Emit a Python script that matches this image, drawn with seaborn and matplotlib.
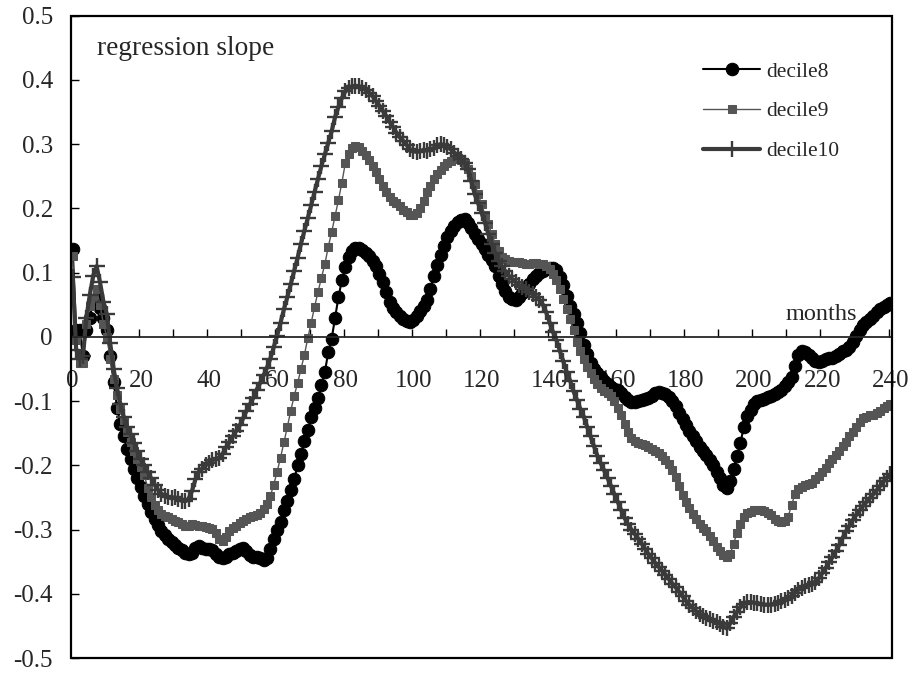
import matplotlib
matplotlib.use("Agg")
import matplotlib.pyplot as plt
from matplotlib.patches import Rectangle
import seaborn as sns
import numpy as np

# months 0..240 on the category axis
months = np.arange(241)

decile8 = [
    0.136, 0.010, 0.010, -0.030, 0.010, 0.030, 0.055, 0.060, 0.045, 0.030,
    0.010, -0.030, -0.070, -0.110, -0.135, -0.155, -0.175, -0.190, -0.205, -0.220,
    -0.233, -0.248, -0.260, -0.272, -0.283, -0.293, -0.302, -0.309, -0.315, -0.320,
    -0.324, -0.328, -0.332, -0.336, -0.338, -0.336, -0.328, -0.326, -0.328, -0.330,
    -0.330, -0.332, -0.338, -0.343, -0.345, -0.342, -0.338, -0.336, -0.333, -0.330,
    -0.328, -0.333, -0.340, -0.343, -0.342, -0.344, -0.347, -0.345, -0.330, -0.314,
    -0.300, -0.288, -0.270, -0.256, -0.238, -0.222, -0.200, -0.182, -0.162, -0.145,
    -0.125, -0.110, -0.095, -0.075, -0.055, -0.024, -0.003, 0.030, 0.062, 0.088,
    0.108, 0.124, 0.134, 0.138, 0.138, 0.135, 0.130, 0.126, 0.118, 0.110,
    0.098, 0.085, 0.070, 0.055, 0.045, 0.038, 0.033, 0.028, 0.025, 0.023,
    0.026, 0.033, 0.040, 0.048, 0.058, 0.075, 0.095, 0.112, 0.128, 0.142,
    0.155, 0.165, 0.173, 0.179, 0.182, 0.183, 0.178, 0.170, 0.160, 0.152,
    0.145, 0.137, 0.128, 0.120, 0.110, 0.095, 0.082, 0.072, 0.062, 0.059,
    0.058, 0.062, 0.068, 0.075, 0.083, 0.090, 0.095, 0.100, 0.103, 0.106,
    0.107, 0.107, 0.104, 0.093, 0.080, 0.064, 0.048, 0.035, 0.022, 0.006,
    -0.012, -0.027, -0.040, -0.050, -0.057, -0.063, -0.068, -0.073, -0.078, -0.081,
    -0.083, -0.087, -0.093, -0.098, -0.101, -0.102, -0.100, -0.098, -0.096, -0.095,
    -0.092, -0.088, -0.086, -0.087, -0.089, -0.093, -0.100, -0.108, -0.118, -0.128,
    -0.137, -0.147, -0.155, -0.162, -0.172, -0.178, -0.184, -0.192, -0.200, -0.210,
    -0.220, -0.230, -0.236, -0.225, -0.205, -0.185, -0.165, -0.140, -0.123, -0.114,
    -0.105, -0.100, -0.098, -0.096, -0.094, -0.092, -0.089, -0.086, -0.082, -0.077,
    -0.071, -0.062, -0.045, -0.028, -0.022, -0.024, -0.028, -0.033, -0.037, -0.039,
    -0.037, -0.034, -0.033, -0.033, -0.030, -0.026, -0.022, -0.020, -0.016, -0.008,
    0.002, 0.010, 0.018, 0.023, 0.028, 0.033, 0.038, 0.043, 0.047, 0.050, 0.053,
]

decile9 = [
    0.126, -0.005, -0.040, -0.040, 0.020, 0.048, 0.060, 0.075, 0.050, 0.020,
    0.000, -0.035, -0.065, -0.090, -0.112, -0.130, -0.148, -0.163, -0.177, -0.190,
    -0.202, -0.215, -0.235, -0.250, -0.262, -0.270, -0.276, -0.279, -0.281, -0.283,
    -0.286, -0.289, -0.292, -0.294, -0.294, -0.292, -0.293, -0.294, -0.295, -0.296,
    -0.297, -0.299, -0.306, -0.314, -0.318, -0.312, -0.303, -0.298, -0.294, -0.290,
    -0.286, -0.283, -0.281, -0.279, -0.277, -0.274, -0.268, -0.260, -0.248, -0.230,
    -0.210, -0.188, -0.164, -0.140, -0.115, -0.092, -0.072, -0.050, -0.028, -0.002,
    0.022, 0.047, 0.070, 0.092, 0.113, 0.140, 0.163, 0.188, 0.213, 0.240,
    0.270, 0.285, 0.294, 0.297, 0.295, 0.290, 0.283, 0.275, 0.266, 0.256,
    0.246, 0.235, 0.225, 0.217, 0.212, 0.208, 0.203, 0.198, 0.194, 0.190,
    0.189, 0.193, 0.200, 0.212, 0.225, 0.235, 0.245, 0.254, 0.260, 0.266,
    0.271, 0.274, 0.277, 0.278, 0.276, 0.270, 0.262, 0.250, 0.238, 0.222,
    0.207, 0.190, 0.176, 0.160, 0.145, 0.133, 0.125, 0.121, 0.118, 0.117,
    0.116, 0.116, 0.115, 0.114, 0.114, 0.115, 0.115, 0.114, 0.113, 0.110,
    0.105, 0.098, 0.088, 0.074, 0.059, 0.044, 0.028, 0.010, -0.008, -0.022,
    -0.034, -0.047, -0.057, -0.066, -0.074, -0.080, -0.084, -0.087, -0.092, -0.100,
    -0.110, -0.122, -0.135, -0.148, -0.157, -0.162, -0.165, -0.167, -0.169, -0.172,
    -0.175, -0.178, -0.181, -0.186, -0.192, -0.198, -0.207, -0.218, -0.232, -0.246,
    -0.257, -0.267, -0.276, -0.284, -0.291, -0.297, -0.303, -0.310, -0.318, -0.327,
    -0.334, -0.340, -0.343, -0.338, -0.322, -0.305, -0.292, -0.280, -0.275, -0.272,
    -0.270, -0.269, -0.270, -0.271, -0.274, -0.278, -0.283, -0.287, -0.288, -0.286,
    -0.280, -0.262, -0.245, -0.237, -0.233, -0.231, -0.229, -0.227, -0.222, -0.216,
    -0.210, -0.204, -0.197, -0.190, -0.184, -0.177, -0.170, -0.163, -0.155, -0.148,
    -0.140, -0.132, -0.127, -0.124, -0.122, -0.121, -0.119, -0.116, -0.111, -0.107, -0.105,
]

decile10 = [
    0.093, -0.020, -0.034, -0.030, 0.030, 0.065, 0.095, 0.110, 0.085, 0.055,
    0.035, -0.010, -0.050, -0.080, -0.105, -0.125, -0.140, -0.152, -0.165, -0.178,
    -0.190, -0.200, -0.210, -0.220, -0.230, -0.238, -0.244, -0.248, -0.250, -0.251,
    -0.250, -0.252, -0.255, -0.256, -0.252, -0.240, -0.222, -0.210, -0.205, -0.200,
    -0.196, -0.192, -0.190, -0.188, -0.182, -0.172, -0.164, -0.155, -0.146, -0.138,
    -0.127, -0.115, -0.105, -0.095, -0.082, -0.072, -0.060, -0.048, -0.034, -0.016,
    0.002, 0.022, 0.043, 0.062, 0.082, 0.103, 0.123, 0.145, 0.165, 0.185,
    0.205, 0.226, 0.246, 0.266, 0.284, 0.302, 0.320, 0.342, 0.358, 0.372,
    0.382, 0.387, 0.390, 0.391, 0.390, 0.388, 0.384, 0.380, 0.375, 0.367,
    0.360, 0.352, 0.344, 0.335, 0.327, 0.318, 0.311, 0.305, 0.299, 0.292,
    0.289, 0.288, 0.289, 0.291, 0.290, 0.292, 0.294, 0.298, 0.300, 0.298,
    0.295, 0.292, 0.287, 0.282, 0.277, 0.270, 0.262, 0.242, 0.222, 0.208,
    0.193, 0.178, 0.160, 0.145, 0.130, 0.118, 0.110, 0.102, 0.095, 0.090,
    0.085, 0.081, 0.077, 0.074, 0.070, 0.066, 0.062, 0.058, 0.050, 0.038,
    0.022, 0.007, -0.005, -0.022, -0.038, -0.055, -0.068, -0.085, -0.098, -0.112,
    -0.124, -0.140, -0.155, -0.170, -0.185, -0.197, -0.208, -0.220, -0.232, -0.245,
    -0.257, -0.270, -0.282, -0.292, -0.300, -0.307, -0.314, -0.322, -0.330, -0.338,
    -0.345, -0.352, -0.358, -0.364, -0.370, -0.377, -0.384, -0.390, -0.397, -0.404,
    -0.411, -0.417, -0.422, -0.427, -0.431, -0.434, -0.437, -0.440, -0.442, -0.444,
    -0.447, -0.451, -0.454, -0.446, -0.436, -0.428, -0.421, -0.416, -0.413, -0.413,
    -0.414, -0.415, -0.416, -0.417, -0.417, -0.417, -0.416, -0.414, -0.411, -0.409,
    -0.407, -0.403, -0.398, -0.394, -0.391, -0.388, -0.386, -0.384, -0.381, -0.376,
    -0.368, -0.360, -0.351, -0.343, -0.334, -0.324, -0.313, -0.303, -0.294, -0.285,
    -0.277, -0.270, -0.263, -0.257, -0.251, -0.245, -0.239, -0.232, -0.225, -0.219, -0.214,
]

x_labels = ["0", "20", "40", "60", "80", "100", "120", "140", "160", "180", "200", "220", "240"]
y_values = [-0.5, -0.4, -0.3, -0.2, -0.1, 0, 0.1, 0.2, 0.3, 0.4, 0.5]
y_labels = ["-0.5", "-0.4", "-0.3", "-0.2", "-0.1", "0", "0.1", "0.2", "0.3", "0.4", "0.5"]

sns.set_style("white")
plt.rcParams["font.family"] = ["Liberation Serif", "DejaVu Serif"]

fig = plt.figure(figsize=(9.12, 6.76), dpi=100)
ax = fig.add_axes([0.0779, 0.0266, 0.9002, 0.9502])

sns.lineplot(x=months, y=decile8, ax=ax, color="black", linewidth=1.5,
             marker="o", markersize=9, markeredgecolor="black", label="decile8")
sns.lineplot(x=months, y=decile9, ax=ax, color="#555555", linewidth=1.0,
             marker="s", markersize=5.5, markeredgecolor="#555555", label="decile9")
sns.lineplot(x=months, y=decile10, ax=ax, color="#3a3a3a", linewidth=3.0,
             marker="+", markersize=12, markeredgewidth=1.7,
             markeredgecolor="#3a3a3a", label="decile10")

ax.set_xlim(-0.5, 240.5)
ax.set_ylim(-0.5, 0.5)
ax.set_xlabel("")
ax.set_ylabel("")

# category axis crosses at zero
ax.spines["bottom"].set_position(("data", 0))
ax.spines["bottom"].set_linewidth(1.3)
for side in ["top", "left", "right"]:
    ax.spines[side].set_visible(False)
ax.add_patch(Rectangle((0, 0), 1, 1, transform=ax.transAxes, fill=False,
                       edgecolor="black", linewidth=1.6, clip_on=False, zorder=5))

ax.set_xticks(np.arange(0, 241, 20))
ax.set_xticklabels(x_labels)
ax.set_xticks(np.arange(9.5, 240, 10), minor=True)
ax.tick_params(axis="x", which="major", length=0, pad=24, labelsize=18)
ax.tick_params(axis="x", which="minor", direction="in", length=6, width=1.0,
               color="black", bottom=True)

ax.set_yticks(y_values)
ax.set_yticklabels(y_labels)
ax.tick_params(axis="y", which="major", direction="in", length=6, width=1.0,
               color="black", left=True, pad=13, labelsize=18)

ax.text(0.032, 0.939, "regression slope", transform=ax.transAxes,
        fontsize=19.7, va="baseline", ha="left")
ax.text(0.8697, 0.526, "months", transform=ax.transAxes,
        fontsize=17.5, va="baseline", ha="left")

ax.legend(loc="upper left", bbox_to_anchor=(0.771, 0.909), bbox_transform=fig.transFigure,
          frameon=False, fontsize=15.5, handlelength=2.65, handletextpad=0.3,
          labelspacing=0.92, borderpad=0, borderaxespad=0)

fig.savefig("out.png", dpi=100)
